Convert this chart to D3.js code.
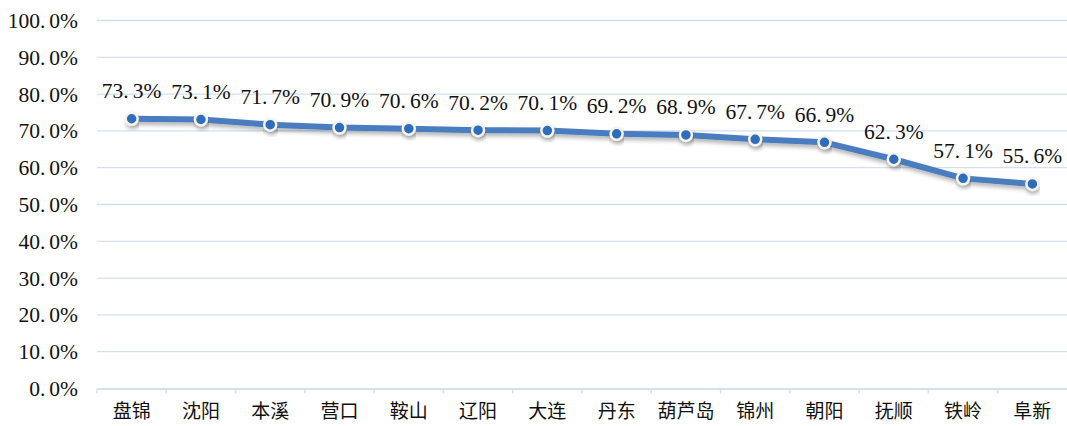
<!DOCTYPE html>
<html>
<head>
<meta charset="utf-8">
<script src="https://cdn.jsdelivr.net/npm/d3@7"></script>
<style>
  body { margin: 0; background: #fff; }
  text { font-family: "Liberation Serif", "Noto Sans CJK SC", serif; fill: #111; }
  .cat text { font-family: "Noto Sans CJK SC", sans-serif; }
</style>
</head>
<body>
<div id="chart"></div>
<script>
const cities = ["盘锦", "沈阳", "本溪", "营口", "鞍山", "辽阳", "大连", "丹东", "葫芦岛", "锦州", "朝阳", "抚顺", "铁岭", "阜新"];
const rates = [73.3, 73.1, 71.7, 70.9, 70.6, 70.2, 70.1, 69.2, 68.9, 67.7, 66.9, 62.3, 57.1, 55.6];
const yTicks = [0, 10, 20, 30, 40, 50, 60, 70, 80, 90, 100];

const W = 1067, H = 426;
const margin = { top: 20.5, right: 0, bottom: 37.5, left: 97 };
const width = W - margin.left - margin.right;
const height = H - margin.top - margin.bottom;

const svg = d3.select("#chart").append("svg")
    .attr("width", W)
    .attr("height", H);

const defs = svg.append("defs");
const shadow = defs.append("filter")
    .attr("id", "shadow")
    .attr("x", "-10%").attr("y", "-50%")
    .attr("width", "120%").attr("height", "200%");
shadow.append("feDropShadow")
    .attr("dx", 1).attr("dy", 3)
    .attr("stdDeviation", 2)
    .attr("flood-color", "#000")
    .attr("flood-opacity", 0.3);

const g = svg.append("g")
    .attr("transform", `translate(${margin.left},${margin.top})`);

const x = d3.scaleBand()
    .domain(cities)
    .range([0, width]);

const y = d3.scaleLinear()
    .domain([0, 100])
    .range([height, 0]);

// write "73.3%" with a wider gap after the dot, like the original font
function pctText(sel, v) {
    const s = v.toFixed(1) + "%";
    const [a, b] = s.split(".");
    sel.text(null);
    sel.append("tspan").text(a + ".");
    sel.append("tspan").attr("dx", 4).text(b);
}

// gridlines
g.selectAll(".grid")
    .data(yTicks.filter(d => d > 0))
    .enter()
    .append("line")
    .attr("class", "grid")
    .attr("x1", 0)
    .attr("x2", width)
    .attr("y1", d => y(d))
    .attr("y2", d => y(d))
    .attr("stroke", "#d3e0f0")
    .attr("stroke-width", 1.3);

// y labels
g.selectAll(".ylab")
    .data(yTicks)
    .enter()
    .append("text")
    .attr("class", "ylab")
    .attr("x", -19)
    .attr("y", d => y(d))
    .attr("dy", "0.35em")
    .attr("text-anchor", "end")
    .style("font-size", "21.5px")
    .each(function(d) { pctText(d3.select(this), d); });

// x axis
const xAxis = d3.axisBottom(x).tickSize(0).tickPadding(16);
const xg = g.append("g")
    .attr("class", "cat")
    .attr("transform", `translate(0,${height})`)
    .call(xAxis);
xg.select(".domain").attr("stroke", "#d3e0f0").attr("stroke-width", 2);
xg.selectAll("text").style("font-size", "19px").attr("fill", "#111");

// band boundary ticks
g.selectAll(".btick")
    .data(cities)
    .enter()
    .append("line")
    .attr("class", "btick")
    .attr("x1", d => x(d))
    .attr("x2", d => x(d))
    .attr("y1", height)
    .attr("y2", height + 5)
    .attr("stroke", "#d3e0f0")
    .attr("stroke-width", 1.5);

const cx = d => x(d) + x.bandwidth() / 2;

const line = d3.line()
    .x((d, i) => cx(cities[i]))
    .y(d => y(d));

g.append("path")
    .datum(rates)
    .attr("fill", "none")
    .attr("stroke", "#4a7dbf")
    .attr("stroke-width", 6)
    .attr("stroke-linejoin", "round")
    .attr("filter", "url(#shadow)")
    .attr("d", line);

g.selectAll(".dot")
    .data(rates)
    .enter()
    .append("circle")
    .attr("class", "dot")
    .attr("cx", (d, i) => cx(cities[i]))
    .attr("cy", d => y(d))
    .attr("r", 6)
    .attr("fill", "#2f6dbd")
    .attr("stroke", "#f5f3ea")
    .attr("stroke-width", 2.5)
    .attr("filter", "url(#shadow)");

g.selectAll(".vlab")
    .data(rates)
    .enter()
    .append("text")
    .attr("class", "vlab")
    .attr("x", (d, i) => cx(cities[i]))
    .attr("y", d => y(d) - 28)
    .attr("dy", "0.35em")
    .attr("text-anchor", "middle")
    .style("font-size", "21.5px")
    .each(function(d) { pctText(d3.select(this), d); });
</script>
</body>
</html>
